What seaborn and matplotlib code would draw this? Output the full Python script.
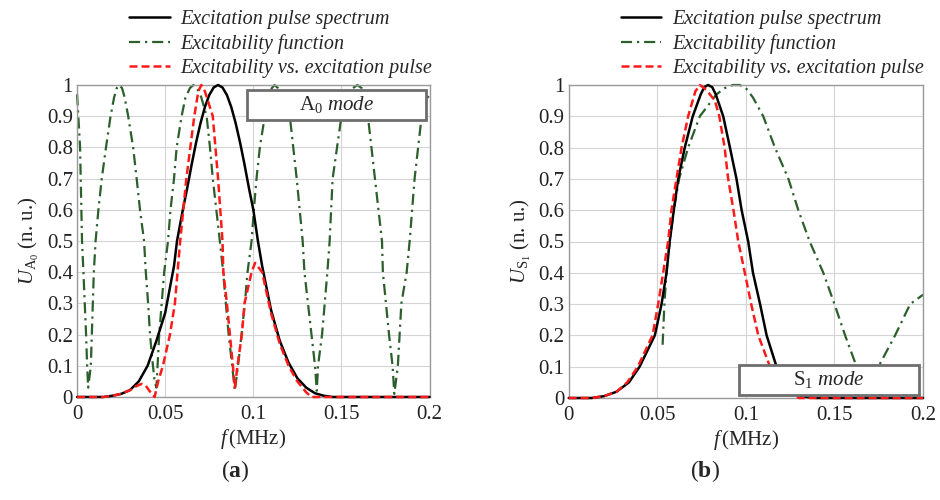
import numpy as np
import pandas as pd
import matplotlib
matplotlib.use("Agg")
import matplotlib.pyplot as plt
import seaborn as sns
from matplotlib.patches import Rectangle

# ---------------- data ----------------
# Panel (a): A0 mode
a_spec_f = [0.0, 0.015, 0.02, 0.025, 0.03, 0.035, 0.04, 0.045, 0.05, 0.055, 0.0567,
            0.06, 0.0625, 0.065, 0.0675, 0.07, 0.0725, 0.075, 0.0775, 0.08, 0.0825,
            0.085, 0.0875, 0.09, 0.0925, 0.095, 0.0975, 0.1, 0.1026, 0.105,
            0.11, 0.115, 0.12, 0.125, 0.13, 0.135, 0.14, 0.145, 0.2]
a_spec_u = [0.0, 0.0, 0.004, 0.01, 0.022, 0.05, 0.1, 0.18, 0.27, 0.42, 0.5,
            0.6, 0.67, 0.745, 0.815, 0.877, 0.929, 0.968, 0.992, 1.0, 0.992,
            0.968, 0.929, 0.877, 0.815, 0.745, 0.67, 0.6, 0.5, 0.42,
            0.28, 0.18, 0.11, 0.06, 0.03, 0.012, 0.004, 0.0, 0.0]

a_exc_f = [0.0, 0.0017, 0.0028, 0.0036, 0.0051, 0.0057, 0.0063, 0.0078, 0.0095, 0.0105,
           0.0121, 0.014, 0.0164, 0.019, 0.021, 0.0225, 0.024, 0.0255, 0.027, 0.029,
           0.0318, 0.0338, 0.0357, 0.038,
           0.039, 0.0403, 0.0414, 0.0425, 0.044, 0.045, 0.0466, 0.048, 0.0494, 0.0516,
           0.053, 0.055, 0.0565, 0.0593, 0.0615, 0.064, 0.066, 0.068, 0.0705, 0.0735,
           0.0754, 0.077, 0.079, 0.081,
           0.0829, 0.0844, 0.086, 0.088, 0.0895, 0.0913, 0.0933, 0.0952, 0.0967, 0.099,
           0.1003, 0.1018, 0.1037, 0.1065, 0.1085, 0.1105, 0.112, 0.114, 0.117, 0.1207,
           0.1246, 0.128, 0.129, 0.131,
           0.133, 0.135, 0.136, 0.1367, 0.139, 0.1405, 0.142, 0.1433, 0.145, 0.15,
           0.153, 0.1565, 0.159, 0.1615, 0.163, 0.165, 0.169, 0.173, 0.1735, 0.177,
           0.179, 0.18, 0.182, 0.184,
           0.187, 0.1887, 0.1915, 0.1955, 0.198, 0.2]
a_exc_u = [0.97, 0.8, 0.5, 0.4, 0.2, 0.1, 0.03, 0.1, 0.4, 0.5,
           0.6, 0.7, 0.8, 0.9, 0.96, 0.99, 1.0, 0.99, 0.96, 0.9,
           0.8, 0.7, 0.6, 0.5,
           0.4, 0.3, 0.2, 0.13, 0.05, 0.03, 0.2, 0.3, 0.4, 0.5,
           0.6, 0.7, 0.8, 0.9, 0.96, 0.99, 1.0, 0.99, 0.96, 0.9,
           0.8, 0.7, 0.6, 0.5,
           0.4, 0.3, 0.2, 0.1, 0.02, 0.1, 0.2, 0.3, 0.4, 0.5,
           0.6, 0.7, 0.8, 0.9, 0.96, 0.99, 1.0, 0.99, 0.96, 0.9,
           0.7, 0.5, 0.4, 0.3,
           0.2, 0.1, 0.02, 0.1, 0.2, 0.3, 0.4, 0.5, 0.7, 0.9,
           0.96, 0.99, 1.0, 0.99, 0.96, 0.9, 0.7, 0.5, 0.4, 0.2,
           0.1, 0.01, 0.1, 0.3,
           0.4, 0.5, 0.7, 0.9, 0.95, 0.97]

a_prod_f = [0.0, 0.015, 0.02, 0.025, 0.03, 0.034, 0.0367, 0.039, 0.041, 0.044, 0.046,
            0.0487, 0.0527, 0.0555, 0.057, 0.0585, 0.062, 0.0665, 0.0688, 0.0705, 0.0725,
            0.077, 0.08, 0.0825, 0.083, 0.085, 0.0867, 0.0884, 0.0895, 0.091, 0.0935,
            0.095, 0.099, 0.101, 0.105, 0.11, 0.115, 0.12, 0.125, 0.13, 0.133, 0.2]
a_prod_u = [0.0, 0.0, 0.004, 0.01, 0.022, 0.036, 0.042, 0.036, 0.02, 0.0, 0.05,
            0.1, 0.2, 0.3, 0.4, 0.5, 0.7, 0.9, 0.98, 1.0, 0.98,
            0.9, 0.7, 0.5, 0.4, 0.3, 0.2, 0.1, 0.03, 0.1, 0.2,
            0.3, 0.4, 0.43, 0.4, 0.27, 0.17, 0.1, 0.05, 0.015, 0.0, 0.0]

# Panel (b): S1 mode
b_spec_f = [0.0, 0.013, 0.02, 0.027, 0.034, 0.04, 0.0486, 0.0524, 0.0552, 0.057,
            0.0593, 0.0618, 0.0655, 0.07, 0.0745, 0.0765, 0.0787, 0.081, 0.083, 0.0872,
            0.091, 0.0947,
            0.0976, 0.1013, 0.104, 0.108, 0.1117, 0.1173, 0.125, 0.132, 0.14, 0.2]
b_spec_u = [0.0, 0.0, 0.006, 0.02, 0.05, 0.1, 0.2, 0.3, 0.4, 0.5,
            0.6, 0.7, 0.8, 0.9, 0.97, 0.993, 1.0, 0.993, 0.97, 0.9,
            0.8, 0.7,
            0.6, 0.5, 0.4, 0.3, 0.2, 0.1, 0.02, 0.005, 0.0, 0.0]

b_exc_f = [0.053, 0.054, 0.0552, 0.057, 0.0593, 0.0623, 0.0674, 0.074, 0.0834, 0.088,
           0.0927, 0.0965, 0.1, 0.104, 0.1098, 0.1164, 0.124, 0.1296, 0.136, 0.1437,
           0.15, 0.156, 0.1625, 0.168, 0.1748, 0.1842, 0.1927, 0.2]
b_exc_u = [0.17, 0.3, 0.4, 0.5, 0.6, 0.7, 0.8, 0.9, 0.97, 0.99,
           1.0, 1.0, 0.99, 0.96, 0.9, 0.8, 0.7, 0.6, 0.5, 0.4,
           0.3, 0.2, 0.1, 0.0, 0.1, 0.2, 0.3, 0.33]

b_prod_f = [0.0, 0.013, 0.02, 0.027, 0.033, 0.039, 0.0473, 0.0505, 0.0533, 0.0561,
            0.058, 0.0608, 0.0637, 0.0674, 0.0715, 0.074, 0.0765, 0.079, 0.0825, 0.085,
            0.088, 0.09, 0.093,
            0.0957, 0.0994, 0.103, 0.107, 0.1136, 0.123, 0.13, 0.2]
b_prod_u = [0.0, 0.0, 0.006, 0.02, 0.05, 0.1, 0.2, 0.3, 0.4, 0.5,
            0.6, 0.7, 0.8, 0.9, 0.98, 1.0, 0.99, 0.975, 0.95, 0.9,
            0.8, 0.7, 0.6,
            0.5, 0.4, 0.3, 0.2, 0.1, 0.02, 0.0, 0.0]

series_labels = ["Excitation pulse spectrum", "Excitability function",
                 "Excitability vs. excitation pulse"]
x_ticks = [0, 0.05, 0.1, 0.15, 0.2]
x_tick_labels = ["0", "0.05", "0.1", "0.15", "0.2"]
y_ticks = [0, 0.1, 0.2, 0.3, 0.4, 0.5, 0.6, 0.7, 0.8, 0.9, 1.0]
y_tick_labels = ["0", "0.1", "0.2", "0.3", "0.4", "0.5", "0.6", "0.7", "0.8", "0.9", "1"]

# ---------------- style ----------------
sns.set_style("whitegrid")
plt.rcParams["font.family"] = ["Liberation Serif", "DejaVu Serif"]
plt.rcParams["mathtext.fontset"] = "custom"
plt.rcParams["mathtext.rm"] = "Liberation Serif"
plt.rcParams["mathtext.it"] = "Liberation Serif:italic"
plt.rcParams["mathtext.bf"] = "Liberation Serif:bold"

C_BLACK = "#000000"
C_GREEN = "#2b5f2b"
C_RED = "#ff1a1a"

fig = plt.figure(figsize=(9.4, 5.0), dpi=100)
axA = fig.add_axes([0.082, 0.206, 0.375, 0.624])
axB = fig.add_axes([0.605, 0.204, 0.377, 0.626])

panels = [
    (axA, a_spec_f, a_spec_u, a_exc_f, a_exc_u, a_prod_f, a_prod_u,
     r"$U_{\mathrm{A}_0}$ (n. u.)", r"A$_0$ $\mathit{mode}$",
     (0.482, 0.888, 0.507, 0.096)),
    (axB, b_spec_f, b_spec_u, b_exc_f, b_exc_u, b_prod_f, b_prod_u,
     r"$U_{\mathrm{S}_1}$ (n. u.)", r"S$_1$ $\mathit{mode}$",
     (0.480, 0.010, 0.509, 0.096)),
]

for (ax, sf, su, ef, eu, pf, pu, ylab, modetxt, box) in panels:
    sns.lineplot(x=sf, y=su, ax=ax, color=C_BLACK, lw=1.8, label=series_labels[0],
                 sort=False, clip_on=False, zorder=3)
    sns.lineplot(x=ef, y=eu, ax=ax, color=C_GREEN, lw=1.6, label=series_labels[1],
                 sort=False, clip_on=False, zorder=2)
    ax.lines[-1].set_dashes((5, 2.2, 1, 2.2))
    sns.lineplot(x=pf, y=pu, ax=ax, color=C_RED, lw=1.8, label=series_labels[2],
                 sort=False, clip_on=False, zorder=4)
    ax.lines[-1].set_dashes((3.2, 1.6))

    ax.set_xlim(0, 0.2)
    ax.set_ylim(0, 1)
    ax.set_xticks(x_ticks)
    ax.set_xticklabels(x_tick_labels)
    ax.set_yticks(y_ticks)
    ax.set_yticklabels(y_tick_labels)
    ax.tick_params(axis="both", labelsize=15, length=0, colors="#222222")
    ax.tick_params(axis="x", pad=6)
    ax.tick_params(axis="y", pad=3)
    ax.grid(True, color="#d4d4d4", lw=0.8)
    for sp in ax.spines.values():
        sp.set_color("#9a9a9a")
        sp.set_linewidth(1.0)
    ax.set_xlabel(r"$f\,$(MHz)", fontsize=15, labelpad=2)
    ax.set_ylabel(ylab, fontsize=15, labelpad=4)

    leg = ax.legend(loc="lower left", bbox_to_anchor=(0.148, 1.022), frameon=False,
                    fontsize=14.5, handlelength=2.0, handletextpad=0.55,
                    labelspacing=0.24, borderpad=0, borderaxespad=0)
    for t in leg.get_texts():
        t.set_fontstyle("italic")

    bx, by, bw, bh = box
    ax.add_patch(Rectangle((bx, by), bw, bh, transform=ax.transAxes,
                           facecolor="white", edgecolor="#6e6e6e", lw=2.0,
                           zorder=10, clip_on=False))
    ax.text(bx + bw / 2, by + bh / 2, modetxt, transform=ax.transAxes,
            ha="center", va="center", fontsize=15, zorder=11)

fig.text(0.25, 0.058, r"($\mathbf{a}$)", ha="center", va="center", fontsize=17)
fig.text(0.75, 0.058, r"($\mathbf{b}$)", ha="center", va="center", fontsize=17)

fig.savefig("out.png", dpi=100)
